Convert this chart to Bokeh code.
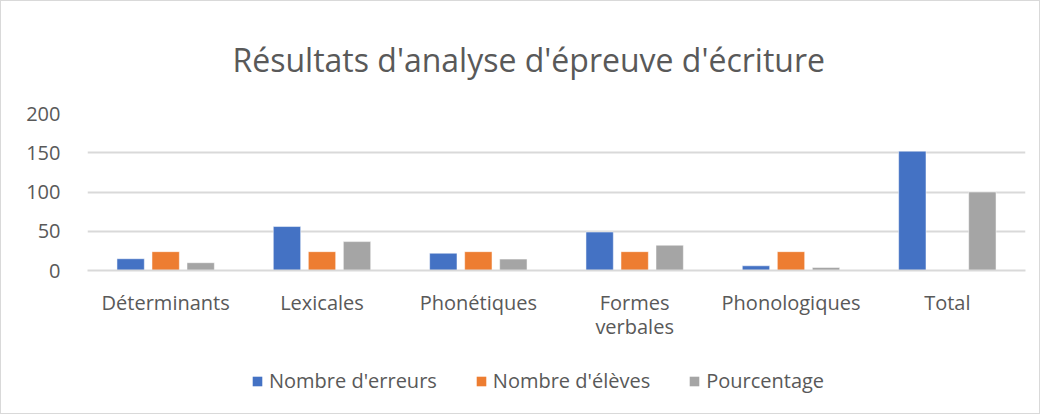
from bokeh.plotting import figure
from bokeh.layouts import column
from bokeh.models import FactorRange, Range1d, Legend, LegendItem, Title, FixedTicker, ColumnDataSource
from bokeh.transform import dodge
from bokeh.embed import file_html
from bokeh.resources import INLINE

categories = ["Déterminants", "Lexicales", "Phonétiques", "Formes\nverbales", "Phonologiques", "Total"]
nombre_erreurs = [15, 56, 22, 49, 6, 152]
nombre_eleves = [24, 24, 24, 24, 24, 0]
pourcentage = [9.9, 36.8, 14.5, 32.2, 3.9, 100]
series_names = ["Nombre d'erreurs", "Nombre d'élèves", "Pourcentage"]
series_colors = ["#4472C4", "#ED7D31", "#A5A5A5"]
y_ticks = [0, 50, 100, 150, 200]

FONT = "Open Sans"
TXT = "#595959"

src = ColumnDataSource(dict(cat=categories, a=nombre_erreurs, b=nombre_eleves, c=pourcentage))

p = figure(x_range=FactorRange(*categories), y_range=Range1d(0, 200),
           width=1038, height=350, output_backend="svg", toolbar_location=None,
           min_border_left=86, min_border_right=14, min_border_top=112, min_border_bottom=81)
p.outline_line_color = None

bw = 0.175
step = 0.224
for col, off, color in zip(["a", "b", "c"], [-step, 0, step], series_colors):
    p.vbar(x=dodge("cat", off, range=p.x_range), top=col, width=bw, source=src,
           fill_color=color, line_color="white", line_width=0.5)

t = Title(text="Résultats d'analyse d'épreuve d'écriture", align="left",
          text_font=FONT, text_font_size="32px", text_font_style="normal",
          text_color=TXT, standoff=65, offset=145)
p.add_layout(t, "above")

p.yaxis.ticker = FixedTicker(ticks=y_ticks)
p.yaxis.axis_line_color = None
p.yaxis.major_tick_line_color = None
p.yaxis.minor_tick_line_color = None
p.yaxis.major_label_text_font = FONT
p.yaxis.major_label_text_font_size = "20px"
p.yaxis.major_label_text_color = TXT
p.yaxis.major_label_standoff = 21

p.xaxis.axis_line_color = "#D9D9D9"
p.xaxis.axis_line_width = 2
p.xaxis.major_tick_line_color = None
p.xaxis.minor_tick_line_color = None
p.xaxis.major_label_text_font = FONT
p.xaxis.major_label_text_font_size = "20px"
p.xaxis.major_label_text_color = TXT
p.xaxis.major_label_text_line_height = 0.9
p.xaxis.major_label_standoff = 12

p.xgrid.grid_line_color = None
p.ygrid.grid_line_color = "#D9D9D9"
p.ygrid.grid_line_width = 2

# legend strip (renderers hold one point outside the visible range)
p2 = figure(width=1038, height=62, output_backend="svg", toolbar_location=None,
            min_border=0, x_range=Range1d(0, 1), y_range=Range1d(0, 1))
p2.axis.visible = False
p2.grid.visible = False
p2.outline_line_color = None
items = []
for name, color in zip(series_names, series_colors):
    r = p2.vbar(x=[-5], top=[0], width=0.1, fill_color=color, line_color=None)
    items.append(LegendItem(label=name, renderers=[r]))
legend = Legend(items=items, orientation="horizontal", location=(164, 19),
                label_text_font=FONT, label_text_font_size="20px", label_text_color=TXT,
                glyph_width=12, glyph_height=12, label_standoff=6, spacing=38,
                border_line_color=None, background_fill_alpha=0, padding=0, margin=0)
p2.add_layout(legend, "center")

layout = column(p, p2, spacing=0)
layout.styles = {"border": "1px solid #D9D9D9"}

open("out.html", "w").write(file_html(layout, INLINE))
